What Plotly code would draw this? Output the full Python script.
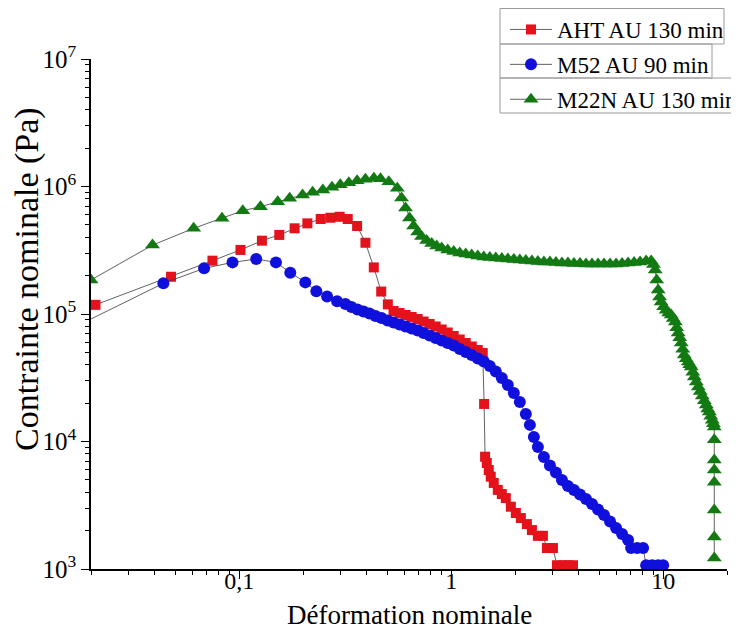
import plotly.graph_objects as go

# ---------------- data ----------------
aht_x = [0.021, 0.0477, 0.0748, 0.1014, 0.128, 0.1546, 0.1826, 0.2097, 0.2423, 0.2693,
         0.2979, 0.3251, 0.360, 0.394, 0.4315, 0.4677, 0.5025, 0.5348, 0.5709, 0.6094,
         0.6506, 0.6945, 0.7413, 0.7914, 0.8448, 0.9018, 0.9627, 1.0276, 1.097, 1.171,
         1.250, 1.335, 1.409, 1.43, 1.445, 1.472, 1.504, 1.537, 1.588, 1.659,
         1.733, 1.81, 1.911, 2.018, 2.131, 2.275, 2.403, 2.564, 2.708, 2.829,
         3.02, 3.154, 3.367, 3.554, 3.754]
aht_y = [1.18e5, 1.96e5, 2.62e5, 3.18e5, 3.76e5, 4.17e5, 4.70e5, 5.14e5, 5.56e5, 5.69e5,
         5.79e5, 5.56e5, 4.90e5, 3.62e5, 2.32e5, 1.50e5, 1.19e5, 1.056e5, 1.018e5, 9.82e4,
         9.47e4, 9.14e4, 8.73e4, 8.35e4, 7.98e4, 7.56e4, 7.16e4, 6.72e4, 6.31e4, 5.92e4,
         5.56e4, 5.22e4, 4.94e4, 1.97e4, 7.6e3, 6.78e3, 5.98e3, 5.30e3, 4.73e3, 4.17e3,
         3.87e3, 3.60e3, 3.08e3, 2.75e3, 2.51e3, 2.25e3, 2.02e3, 1.82e3, 1.82e3, 1.46e3,
         1.46e3, 1.07e3, 1.07e3, 1.07e3, 1.07e3]

m52_x = [0.017, 0.0439, 0.0683, 0.0930, 0.1203, 0.1491, 0.1742, 0.2051, 0.2312, 0.2598,
         0.2897, 0.317, 0.3385, 0.3613, 0.3858, 0.4118, 0.4396, 0.4693, 0.501, 0.5348,
         0.5709, 0.6094, 0.6506, 0.6945, 0.7413, 0.7914, 0.8448, 0.9018, 0.9627, 1.0276,
         1.097, 1.171, 1.250, 1.335, 1.425, 1.521, 1.623, 1.733, 1.850, 1.975,
         2.108, 2.250, 2.351, 2.455, 2.564, 2.737, 2.922, 3.119, 3.330, 3.554,
         3.795, 4.051, 4.324, 4.616, 4.928, 5.26, 5.615, 5.995, 6.40, 6.83,
         7.06, 7.54, 8.04, 8.31, 8.87, 9.47, 10.0]
m52_y = [8.0e4, 1.74e5, 2.28e5, 2.54e5, 2.70e5, 2.54e5, 2.11e5, 1.77e5, 1.51e5, 1.37e5,
         1.26e5, 1.20e5, 1.134e5, 1.085e5, 1.046e5, 1.009e5, 9.65e4, 9.30e4, 8.89e4, 8.58e4,
         8.27e4, 7.98e4, 7.70e4, 7.42e4, 7.10e4, 6.78e4, 6.48e4, 6.20e4, 5.92e4, 5.66e4,
         5.32e4, 5.04e4, 4.77e4, 4.48e4, 4.24e4, 3.91e4, 3.54e4, 3.15e4, 2.77e4, 2.40e4,
         2.04e4, 1.64e4, 1.35e4, 1.085e4, 9.06e3, 7.56e3, 6.48e3, 5.71e3, 4.99e3, 4.48e3,
         4.17e3, 3.84e3, 3.54e3, 3.23e3, 2.93e3, 2.65e3, 2.36e3, 2.10e3, 1.88e3, 1.69e3,
         1.46e3, 1.46e3, 1.46e3, 1.07e3, 1.07e3, 1.07e3, 1.07e3]

m22n_x = [0.020, 0.039, 0.061, 0.083, 0.104, 0.126, 0.152, 0.173, 0.199, 0.222,
          0.248, 0.274, 0.300, 0.329, 0.360, 0.394, 0.432, 0.464, 0.508, 0.557,
          0.583, 0.609, 0.636, 0.665, 0.695, 0.725, 0.766, 0.809, 0.854, 0.902,
          0.963, 1.028, 1.097, 1.171, 1.250, 1.335, 1.425, 1.521, 1.623, 1.733,
          1.850, 1.975, 2.108, 2.250, 2.403, 2.564, 2.737, 2.922, 3.119, 3.330,
          3.554, 3.795, 4.051, 4.324, 4.616, 4.928, 5.26, 5.615, 5.995, 6.40,
          6.83, 7.29, 7.78, 8.31, 8.78, 9.00, 9.17, 9.32, 9.47, 9.62,
          9.78, 10.05, 10.33, 10.62, 10.91, 11.15, 11.40, 11.58, 11.77, 11.97,
          12.17, 12.37, 12.57, 12.85, 13.13, 13.35, 13.56, 13.79, 14.02, 14.33,
          14.64, 14.96, 15.29, 15.63, 15.97, 16.23, 16.50, 16.77, 17.05, 17.25,
          17.42, 17.42, 17.42, 17.42, 17.42, 17.42, 17.42, 17.42]
m22n_y = [1.85e5, 3.47e5, 4.70e5, 5.63e5, 6.46e5, 6.95e5, 7.60e5, 8.08e5, 8.57e5, 9.01e5,
          9.39e5, 9.86e5, 1.03e6, 1.07e6, 1.11e6, 1.14e6, 1.16e6, 1.15e6, 1.09e6, 9.68e5,
          8.12e5, 6.78e5, 5.66e5, 4.90e5, 4.40e5, 4.05e5, 3.77e5, 3.57e5, 3.42e5, 3.29e5,
          3.18e5, 3.09e5, 3.01e5, 2.95e5, 2.90e5, 2.85e5, 2.80e5, 2.77e5, 2.75e5, 2.72e5,
          2.70e5, 2.68e5, 2.65e5, 2.63e5, 2.60e5, 2.58e5, 2.56e5, 2.56e5, 2.53e5, 2.51e5,
          2.51e5, 2.49e5, 2.49e5, 2.47e5, 2.47e5, 2.47e5, 2.47e5, 2.47e5, 2.47e5, 2.49e5,
          2.51e5, 2.53e5, 2.56e5, 2.60e5, 2.60e5, 2.45e5, 2.21e5, 1.85e5, 1.54e5, 1.36e5,
          1.24e5, 1.14e5, 1.07e5, 1.02e5, 9.82e4, 9.2e4, 8.65e4, 7.8e4, 7.10e4, 6.5e4,
          5.92e4, 5.3e4, 4.77e4, 4.45e4, 4.20e4, 4.0e4, 3.84e4, 3.5e4, 3.21e4, 2.93e4,
          2.68e4, 2.47e4, 2.27e4, 2.09e4, 1.93e4, 1.80e4, 1.70e4, 1.58e4, 1.47e4, 1.38e4,
          1.30e4, 1.03e4, 7.16e3, 5.97e3, 4.80e3, 2.90e3, 1.78e3, 1.22e3]

series_names = ["AHT AU 130 min", "M52 AU 90 min", "M22N AU 130 min"]

x_major_ticks = [0.1, 1, 10]
x_major_labels = ["0,1", "1", "10"]
x_minor_ticks = [0.02, 0.03, 0.04, 0.05, 0.06, 0.07, 0.08, 0.09,
                 0.2, 0.3, 0.4, 0.5, 0.6, 0.7, 0.8, 0.9,
                 2, 3, 4, 5, 6, 7, 8, 9, 20]
y_major_ticks = [1e3, 1e4, 1e5, 1e6, 1e7]
y_major_labels = ["10<sup>3</sup>", "10<sup>4</sup>", "10<sup>5</sup>", "10<sup>6</sup>", "10<sup>7</sup>"]
y_minor_ticks = [m * 10 ** e for e in (3, 4, 5, 6) for m in range(2, 10)]

FONT = "Liberation Serif"
LINE = "#3a3a3a"

fig = go.Figure()
fig.add_trace(go.Scatter(x=aht_x, y=aht_y, name=series_names[0], mode="lines+markers",
                         legendgroup="a",
                         line=dict(color=LINE, width=0.8),
                         marker=dict(symbol="square", size=10, color="#e3121b", line=dict(width=0))))
fig.add_trace(go.Scatter(x=m52_x, y=m52_y, name=series_names[1], mode="lines+markers",
                         legendgroup="b",
                         line=dict(color=LINE, width=0.8),
                         marker=dict(symbol="circle", size=12, color="#1010dc", line=dict(width=0))))
fig.add_trace(go.Scatter(x=m22n_x, y=m22n_y, name=series_names[2], mode="lines+markers",
                         legendgroup="c",
                         line=dict(color=LINE, width=0.8),
                         marker=dict(symbol="triangle-up", size=13, color="#137a13", line=dict(width=0))))

# The page body adds an 8 px offset; the figure is sized so that its plot area
# lands at screen pixels: left 91, right 727, top 59, bottom 569.
OFF = 8
W, H = 739 - OFF, 637 - OFF
L, R, T, B = 91 - OFF, 727 - OFF, 59 - OFF, 569 - OFF


def px(xs):
    """screen pixel x -> paper x"""
    return (xs - OFF - L) / (R - L)


def py(ys):
    """screen pixel y -> paper y"""
    return (B - (ys - OFF)) / (B - T)


box = dict(type="rect", xref="paper", yref="paper", line=dict(color="#9a9a9a", width=1),
           fillcolor="rgba(0,0,0,0)", layer="above")
shapes = [
    dict(box, x0=px(500), x1=px(724), y0=py(44), y1=py(8.5)),
    dict(box, x0=px(500), x1=px(712), y0=py(78), y1=py(44)),
    dict(box, x0=px(500), x1=px(745), y0=py(113), y1=py(78)),
]

axis_common = dict(
    type="log", showline=True, linecolor="black", linewidth=1.5, mirror=False,
    ticks="outside", ticklen=8, tickwidth=1.3, tickcolor="black",
    showgrid=False, zeroline=False, automargin=False, tickmode="array",
    tickfont=dict(family=FONT, size=25, color="black"),
)

fig.update_layout(
    width=W, height=H,
    margin=dict(l=L, r=W - R, t=T, b=H - B, autoexpand=False),
    paper_bgcolor="white", plot_bgcolor="white",
    font=dict(family=FONT, color="black"),
    xaxis=dict(axis_common, range=[-1.69897, 1.30103], ticklabelstandoff=-19,
               tickfont=dict(family=FONT, size=24, color="black"),
               tickvals=x_major_ticks, ticktext=x_major_labels,
               minor=dict(tickmode="array", tickvals=x_minor_ticks, ticks="outside",
                          ticklen=4, tickwidth=1, tickcolor="black", showgrid=False)),
    yaxis=dict(axis_common, range=[3, 7],
               tickvals=y_major_ticks, ticktext=y_major_labels,
               minor=dict(tickmode="array", tickvals=y_minor_ticks, ticks="outside",
                          ticklen=4, tickwidth=1, tickcolor="black", showgrid=False)),
    showlegend=True,
    legend=dict(x=(505 - OFF) / W, y=1.0, xanchor="left", yanchor="top",
                xref="container", yref="container",
                bgcolor="rgba(0,0,0,0)", borderwidth=0, tracegroupgap=2, itemwidth=42,
                font=dict(family=FONT, size=23, color="black")),
    shapes=shapes,
    annotations=[
        dict(text="Déformation nominale", x=0.5, y=py(615), xref="paper", yref="paper",
             showarrow=False, xanchor="center", yanchor="middle",
             font=dict(family=FONT, size=27, color="black")),
        dict(text="Contrainte nominale (Pa)", x=px(27), y=py(279), xref="paper", yref="paper",
             showarrow=False, xanchor="center", yanchor="middle", textangle=-90,
             font=dict(family=FONT, size=34, color="black")),
    ],
)

fig.write_html("out.html")
